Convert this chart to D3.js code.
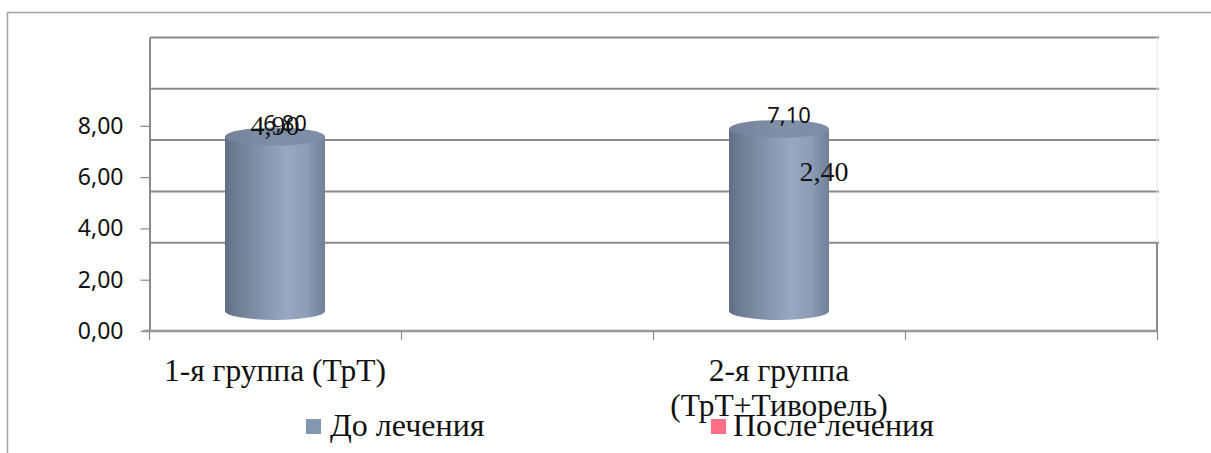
<!DOCTYPE html>
<html lang="ru">
<head>
<meta charset="utf-8">
<script src="https://cdn.jsdelivr.net/npm/d3@7/dist/d3.min.js"></script>
<style>
  html, body { margin: 0; padding: 0; background: #fff; }
  svg { display: block; }
</style>
</head>
<body>
<svg id="chart" width="1211" height="453"></svg>
<script>
// Categories and series
const categories = ["1-я группа (ТрТ)", "2-я группа (ТрТ+Тиворель)"];
const seriesNames = ["До лечения", "После лечения"];
const beforeValues = [6.80, 7.10];
const afterValues = [4.90, 2.40];
const yTicks = [0, 2, 4, 6, 8];
const seriesColors = ["#8497B0", "#FF7088"];

const svg = d3.select("#chart");
const W = 1211, H = 453;

// outer chart frame
svg.append("path")
  .attr("d", `M7.5,${H} L7.5,12.5 L${W},12.5`)
  .attr("fill", "none")
  .attr("stroke", "#a3a3a3")
  .attr("stroke-width", 1.5);

// scales
const plotLeft = 149, plotRight = 1157;
const y = d3.scaleLinear().domain([0, 10]).range([331, 74.5]);
// four slots along the floor, groups sit in slots 0 and 2
const x = d3.scaleBand().domain(d3.range(4)).range([plotLeft, plotRight]).paddingInner(0).paddingOuter(0);
const slotOf = i => i * 2;
const cx = i => x(slotOf(i)) + x.bandwidth() / 2;

const backShift = 37;   // back wall offset
const midShift = 20;    // cylinder depth offset

const fmt = v => d3.format(".2f")(v).replace(".", ",");

// back wall gridlines
const gridVals = [2, 4, 6, 8, 10];
svg.append("g").selectAll("line").data(gridVals).join("line")
  .attr("x1", plotLeft + 1).attr("x2", plotRight + 2)
  .attr("y1", d => y(d) - backShift).attr("y2", d => y(d) - backShift)
  .attr("stroke", "#8a8a8a").attr("stroke-width", 2);

// floor box right edge
svg.append("line")
  .attr("x1", plotRight).attr("x2", plotRight)
  .attr("y1", y(2) - backShift).attr("y2", y(0))
  .attr("stroke", "#8a8a8a").attr("stroke-width", 2);
svg.append("line")
  .attr("x1", plotRight).attr("x2", plotRight)
  .attr("y1", y(10) - backShift).attr("y2", y(2) - backShift)
  .attr("stroke", "#e6e6e6").attr("stroke-width", 1);

// y axis
const yAxis = d3.axisLeft(y).tickValues(yTicks).tickSize(9).tickFormat(fmt);
const gy = svg.append("g").attr("transform", `translate(${plotLeft + 0.5},0)`).call(yAxis);
gy.select(".domain").remove();
gy.selectAll(".tick line").attr("stroke", "#8a8a8a").attr("stroke-width", 1.2);
gy.selectAll(".tick text")
  .attr("x", -26)
  .attr("font-family", "'Noto Sans', 'Open Sans', sans-serif")
  .attr("font-size", 23)
  .attr("fill", "#111");
svg.append("line")
  .attr("x1", plotLeft + 1).attr("x2", plotLeft + 1)
  .attr("y1", y(10) - backShift).attr("y2", y(0))
  .attr("stroke", "#8a8a8a").attr("stroke-width", 2);

// x axis
const xTickPos = d3.range(5).map(i => plotLeft + i * x.bandwidth());
svg.append("line")
  .attr("x1", plotLeft - 6).attr("x2", plotRight)
  .attr("y1", y(0)).attr("y2", y(0))
  .attr("stroke", "#999").attr("stroke-width", 2.5);
svg.append("g").selectAll("line").data(xTickPos).join("line")
  .attr("x1", d => d + 0.5).attr("x2", d => d + 0.5)
  .attr("y1", y(0)).attr("y2", y(0) + 9)
  .attr("stroke", "#8a8a8a").attr("stroke-width", 1.2);

// gradients for cylinders
const defs = svg.append("defs");
const body = defs.append("linearGradient").attr("id", "cylBody")
  .attr("x1", "0%").attr("x2", "100%").attr("y1", "0%").attr("y2", "0%");
[[0, "#5f6e85"], [0.12, "#6f7e95"], [0.45, "#8a9ab2"], [0.62, "#97a8c0"], [0.82, "#8c9db5"], [1, "#718098"]]
  .forEach(([o, c]) => body.append("stop").attr("offset", o).attr("stop-color", c));
const topG = defs.append("linearGradient").attr("id", "cylTop")
  .attr("x1", "0%").attr("x2", "100%").attr("y1", "0%").attr("y2", "0%");
[[0, "#73829a"], [0.5, "#8090a8"], [1, "#7e8da5"]]
  .forEach(([o, c]) => topG.append("stop").attr("offset", o).attr("stop-color", c));

// cylinders for the first series
const rx = 50, ry = 9;
const bars = svg.append("g").selectAll("g").data(beforeValues).join("g");
bars.append("path")
  .attr("d", (v, i) => {
    const c = cx(i), t = y(v) - midShift, b = y(0) - midShift;
    return `M${c - rx},${t} L${c - rx},${b} A${rx},${ry} 0 0 0 ${c + rx},${b} L${c + rx},${t} Z`;
  })
  .attr("fill", "url(#cylBody)");
bars.append("ellipse")
  .attr("cx", (v, i) => cx(i))
  .attr("cy", v => y(v) - midShift)
  .attr("rx", rx).attr("ry", ry)
  .attr("fill", "url(#cylTop)");

// value labels
svg.append("g").selectAll("text").data(beforeValues).join("text")
  .attr("x", (v, i) => cx(i) + 10)
  .attr("y", v => y(v) - midShift - ry + 3)
  .attr("text-anchor", "middle")
  .attr("font-family", "'Noto Sans', 'Open Sans', sans-serif")
  .attr("font-size", 22)
  .attr("fill", "#111")
  .text(fmt);

// labels of the second series, anchored near each group's cylinder
const afterLabelOffset = [[0, -20], [45, 34]];
svg.append("g").selectAll("text").data(afterValues).join("text")
  .attr("x", (v, i) => cx(i) + afterLabelOffset[i][0])
  .attr("y", (v, i) => y(beforeValues[i]) - midShift + afterLabelOffset[i][1] + 18)
  .attr("text-anchor", "middle")
  .attr("font-family", "'Liberation Serif', 'Times New Roman', serif")
  .attr("font-size", 28)
  .attr("fill", "#111")
  .text(fmt);

// category labels with wrapping
const catG = svg.append("g")
  .attr("font-family", "'Liberation Serif', 'Times New Roman', serif")
  .attr("font-size", 31.5)
  .attr("fill", "#111")
  .attr("text-anchor", "middle");
categories.forEach((name, i) => {
  const t = catG.append("text").attr("x", cx(i)).attr("y", 381);
  const words = name.split(" ");
  let line = [];
  let ts = t.append("tspan").attr("x", cx(i)).attr("dy", 0);
  words.forEach(w => {
    line.push(w);
    ts.text(line.join(" "));
    if (ts.node().getComputedTextLength() > x.bandwidth() - 10 && line.length > 1) {
      line.pop();
      ts.text(line.join(" "));
      line = [w];
      ts = t.append("tspan").attr("x", cx(i)).attr("dy", 35).text(w);
    }
  });
});

// legend
const legendX = [306, 711];
const lg = svg.append("g").selectAll("g").data(seriesNames).join("g")
  .attr("transform", (d, i) => `translate(${legendX[i]},419)`);
lg.append("rect").attr("width", 15).attr("height", 15)
  .attr("fill", (d, i) => seriesColors[i]);
lg.append("text")
  .attr("x", (d, i) => i === 0 ? 24 : 22)
  .attr("y", 17)
  .attr("font-family", "'Liberation Serif', 'Times New Roman', serif")
  .attr("font-size", 32)
  .attr("fill", "#111")
  .text(d => d);
</script>
</body>
</html>
